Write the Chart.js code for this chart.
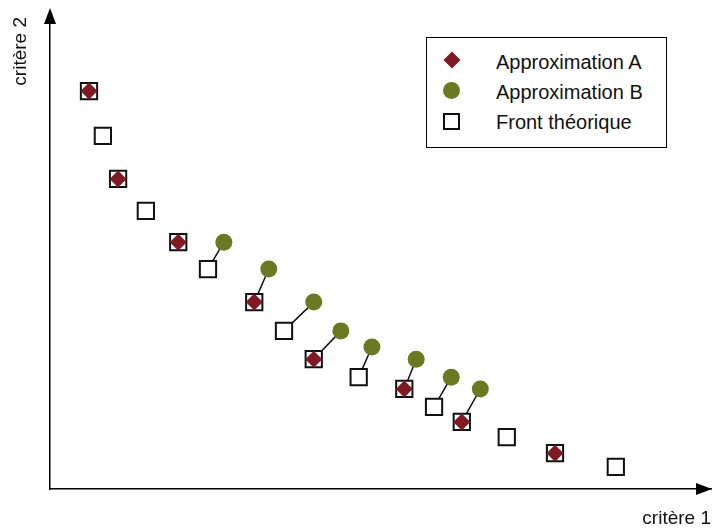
<!DOCTYPE html>
<html lang="fr">
<head>
<meta charset="utf-8">
<title>Front théorique et approximations</title>
<script src="https://cdn.jsdelivr.net/npm/chart.js@4.4.1/dist/chart.umd.min.js"></script>
<style>
  html, body { margin: 0; padding: 0; background: #fff; }
  #wrap { position: relative; width: 716px; height: 529px; font-family: "Liberation Sans", Arial, Helvetica, sans-serif; }
  #c { position: absolute; left: 0; top: 0; }
  .box { position: absolute; left: 426px; top: 37px; width: 241px; height: 111px; box-sizing: border-box; border: 1px solid #000; background: #fff; }
  .lbl { position: absolute; left: 496px; font-size: 20px; line-height: 20px; height: 20px; color: #111; white-space: nowrap; }
  .mk { position: absolute; box-sizing: border-box; }
</style>
</head>
<body>
<div id="wrap">
  <canvas id="c" width="716" height="529"></canvas>
  <div class="box"></div>
  <div class="mk" id="mkA" style="left:445.5px; top:54px; width:12px; height:12px; background:#7f1a25; transform:rotate(45deg);"></div>
  <div class="mk" id="mkB" style="left:443px; top:82px; width:17px; height:17px; border-radius:50%; background:#6b7a22;"></div>
  <div class="mk" id="mkF" style="left:443px; top:113px; width:17px; height:17px; border:2px solid #111; background:#fff;"></div>
  <div class="lbl" id="lA" style="top:52px;"></div>
  <div class="lbl" id="lB" style="top:82px;"></div>
  <div class="lbl" id="lF" style="top:112px;"></div>
</div>
<script>
// ---- Data ----
const seriesNames = ["Approximation A", "Approximation B", "Front théorique"];
const axisTitles = ["critère 1", "critère 2"];

// Front théorique
const frontX = [5.9, 8.0, 10.3, 14.5, 19.4, 23.9, 30.9, 35.4, 39.9, 46.7, 53.6, 58.1, 62.3, 69.1, 76.4, 85.6];
const frontY = [84.3, 74.8, 65.7, 58.9, 52.3, 46.6, 39.6, 33.5, 27.5, 23.7, 21.2, 17.4, 14.2, 11.0, 7.6, 4.7];

// Approximation A (lies on the front)
const approxAX = [5.9, 10.3, 19.4, 30.9, 39.9, 53.6, 62.3, 76.4];
const approxAY = [84.3, 65.7, 52.3, 39.6, 27.5, 21.2, 14.2, 7.6];

// Approximation B
const approxBX = [26.3, 33.1, 39.9, 44.0, 48.7, 55.4, 60.7, 65.1];
const approxBY = [52.3, 46.6, 39.6, 33.5, 30.1, 27.5, 23.7, 21.2];

// Index of the front point each B point is linked to
const linkToFront = [5, 6, 7, 8, 9, 10, 11, 12];

// ---- Build datasets ----
const pts = (xs, ys) => xs.map((x, i) => ({ x: x, y: ys[i] }));
const linkData = [];
linkToFront.forEach((fi, i) => {
  linkData.push({ x: approxBX[i], y: approxBY[i] });
  linkData.push({ x: frontX[fi], y: frontY[fi] });
  linkData.push({ x: null, y: null });
});

document.getElementById('lA').textContent = seriesNames[0];
document.getElementById('lB').textContent = seriesNames[1];
document.getElementById('lF').textContent = seriesNames[2];

const FONT = '"Liberation Sans", Arial, Helvetica, sans-serif';

const arrows = {
  id: 'arrows',
  afterDraw(chart) {
    const ctx = chart.ctx;
    const xs = chart.scales.x, ys = chart.scales.y;
    const ax = ys.right, ay = xs.top;
    ctx.save();
    ctx.fillStyle = '#000';
    // y arrow
    ctx.beginPath();
    ctx.moveTo(ax, 8);
    ctx.lineTo(ax - 6, 24);
    ctx.lineTo(ax + 6, 24);
    ctx.closePath();
    ctx.fill();
    // x arrow
    ctx.beginPath();
    ctx.moveTo(712, ay);
    ctx.lineTo(696, ay - 6);
    ctx.lineTo(696, ay + 6);
    ctx.closePath();
    ctx.fill();
    ctx.restore();
  }
};

new Chart(document.getElementById('c'), {
  type: 'scatter',
  data: {
    datasets: [
      {
        label: seriesNames[1],
        data: pts(approxBX, approxBY),
        pointStyle: 'circle',
        pointRadius: 8.5, pointHoverRadius: 8.5,
        backgroundColor: '#6b7a22', borderWidth: 0
      },
      {
        label: seriesNames[0],
        data: pts(approxAX, approxAY),
        pointStyle: 'rectRot',
        pointRadius: 8.5, pointHoverRadius: 8.5,
        backgroundColor: '#7f1a25', borderWidth: 0
      },
      {
        label: seriesNames[2],
        data: pts(frontX, frontY),
        pointStyle: 'rect',
        pointRadius: 11.5, pointHoverRadius: 11.5,
        backgroundColor: '#ffffff', borderColor: '#111', borderWidth: 2
      },
      {
        label: 'liens',
        data: linkData,
        showLine: true, spanGaps: false,
        pointRadius: 0, pointHoverRadius: 0,
        borderColor: '#111', borderWidth: 1.5
      }
    ]
  },
  options: {
    responsive: false,
    animation: false,
    devicePixelRatio: 1,
    events: [],
    layout: { autoPadding: false, padding: { top: 17, right: 5, left: 0, bottom: 0 } },
    plugins: { legend: { display: false }, tooltip: { enabled: false } },
    scales: {
      x: {
        type: 'linear', min: 0, max: 100,
        grid: { display: false },
        ticks: { display: false },
        border: { display: true, color: '#000', width: 1.5 },
        title: { display: true, text: axisTitles[0], align: 'end', color: '#111',
                 font: { family: FONT, size: 19, lineHeight: 1 }, padding: { top: 0, bottom: 1 } },
        afterFit(s) { s.height = 40; }
      },
      y: {
        type: 'linear', min: 0, max: 100,
        grid: { display: false },
        ticks: { display: false },
        border: { display: true, color: '#000', width: 1.5 },
        title: { display: true, text: axisTitles[1], align: 'end', color: '#111',
                 font: { family: FONT, size: 19, lineHeight: 1 }, padding: { top: 11, bottom: 0 } },
        afterFit(s) { s.width = 50; }
      }
    }
  },
  plugins: [arrows]
});
</script>
</body>
</html>
